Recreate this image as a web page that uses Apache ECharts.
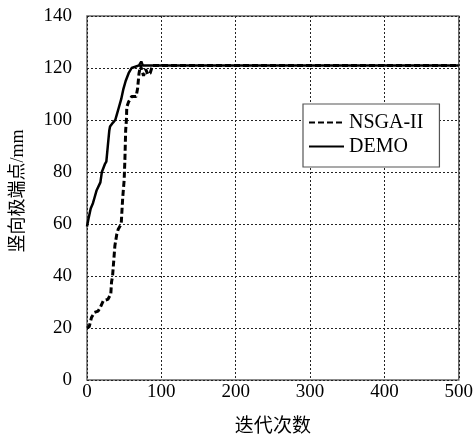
<!DOCTYPE html>
<html>
<head>
<meta charset="utf-8">
<script src="https://cdn.jsdelivr.net/npm/echarts@6/dist/echarts.min.js"></script>
<style>
  html, body { margin: 0; padding: 0; background: #fff; }
  #chart { width: 476px; height: 442px; }
</style>
</head>
<body>
<div id="chart"></div>
<script>
// Convergence of the vertical extreme point (mm) over iterations
const nsgaIter  = [0, 3, 6, 10, 15, 18, 22, 28, 32, 33, 34.4, 36, 37.5, 40, 42, 46, 48, 50, 51, 52, 53, 53.5, 56, 60, 66, 68, 70, 72, 74, 76, 79, 82, 85, 88, 500];
const nsgaValue = [20, 20.5, 24, 26, 26.5, 28, 30.5, 31, 33, 37.7, 40, 46, 51.6, 56, 58, 60, 70, 77, 85, 96, 100, 105, 107, 109, 109, 112, 118, 121, 119, 117, 119.5, 117.5, 118, 121, 121];

const demoIter  = [0, 2, 5, 8, 10, 13, 15, 18, 20, 24, 26, 28, 30, 31, 35, 38, 40, 43, 46, 49, 52, 56, 60, 65, 70, 73, 75, 80, 500];
const demoValue = [59, 62, 66, 68, 70, 73, 73, 76, 80, 83, 84, 90, 96, 97.5, 99, 100, 102, 105, 108, 112, 115, 118, 120, 120.5, 121, 122.5, 121, 121, 121];

const xTicks = [0, 100, 200, 300, 400, 500];
const yTicks = [0, 20, 40, 60, 80, 100, 120, 140];

const pairs = (xs, ys) => xs.map((x, i) => [x, ys[i]]);

const serif = '"Liberation Serif", "Noto Sans CJK SC", serif';

const chart = echarts.init(document.getElementById('chart'), null, { renderer: 'canvas' });

chart.setOption({
  animation: false,
  backgroundColor: '#fff',
  grid: {
    left: 87, right: 14, top: 16, bottom: 60,
    show: true, borderColor: '#666', borderWidth: 1.5, backgroundColor: 'transparent'
  },
  legend: {
    orient: 'vertical',
    left: 303, top: 104,
    padding: [8.5, 16, 10.5, 5],
    itemWidth: 35, itemHeight: 20, itemGap: 4,
    backgroundColor: '#fff',
    borderColor: '#555', borderWidth: 1.2,
    // line-only keys: hide the marker glyph drawn in the middle of each key
    itemStyle: { opacity: 0 },
    textStyle: { fontFamily: serif, fontSize: 20, color: '#000' },
    data: ['NSGA-II', 'DEMO']
  },
  xAxis: {
    type: 'value',
    min: xTicks[0], max: xTicks[xTicks.length - 1], interval: 100,
    name: '迭代次数', nameLocation: 'middle', nameGap: 38,
    nameTextStyle: { fontFamily: serif, fontSize: 19, color: '#000' },
    axisLine: { show: false },
    axisTick: { show: false },
    axisLabel: { fontFamily: serif, fontSize: 19, color: '#000', margin: 3 },
    splitLine: { show: true, lineStyle: { type: [2, 2], color: '#222', width: 1 } }
  },
  yAxis: {
    type: 'value',
    min: yTicks[0], max: yTicks[yTicks.length - 1], interval: 20,
    name: '竖向极端点/mm', nameLocation: 'middle', nameGap: 60,
    nameTextStyle: { fontFamily: serif, fontSize: 18, color: '#000', padding: [0, 0, 0, 14] },
    axisLine: { show: false },
    axisTick: { show: false },
    axisLabel: { fontFamily: serif, fontSize: 19, color: '#000', margin: 15 },
    splitLine: { show: true, lineStyle: { type: [2, 2], color: '#222', width: 1 } }
  },
  series: [
    {
      name: 'NSGA-II', type: 'line', symbol: 'none',
      data: pairs(nsgaIter, nsgaValue),
      lineStyle: { color: '#000', width: 3, type: [6, 3] },
      itemStyle: { color: '#000' }
    },
    {
      name: 'DEMO', type: 'line', symbol: 'none',
      data: pairs(demoIter, demoValue),
      lineStyle: { color: '#000', width: 2.5, type: 'solid' },
      itemStyle: { color: '#000' }
    }
  ]
});
</script>
</body>
</html>
